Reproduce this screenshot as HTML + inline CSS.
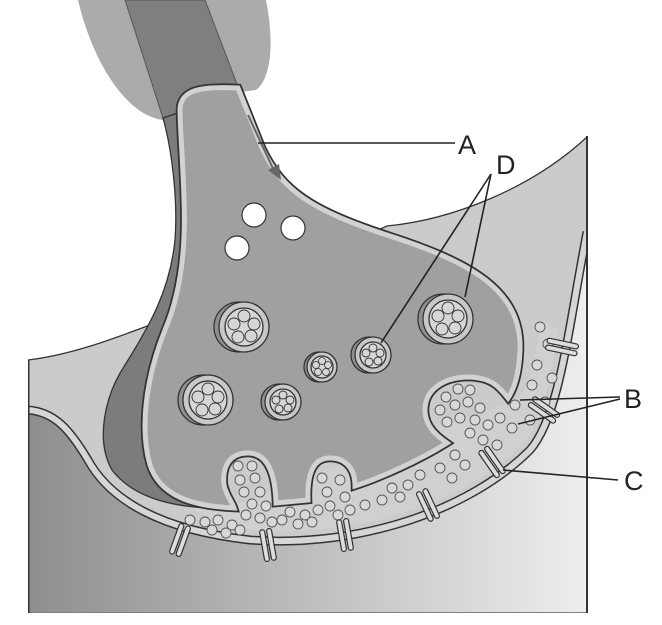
<!DOCTYPE html>
<html><head><meta charset="utf-8"><style>
html,body{margin:0;padding:0;background:#fff;width:662px;height:625px;overflow:hidden}
svg{display:block}
text{font-family:"Liberation Sans",sans-serif;font-size:27px;fill:#222}
</style></head><body>
<svg width="662" height="625" viewBox="0 0 662 625" xmlns="http://www.w3.org/2000/svg">
<defs>
<linearGradient id="post" x1="0" x2="1" y1="0" y2="0">
<stop offset="0" stop-color="#8e8e8e"/><stop offset="1" stop-color="#f0f0f0"/>
</linearGradient>
<clipPath id="cl"><rect x="28" y="0" width="559" height="613"/></clipPath>
</defs>
<!-- axon glow -->
<path d="M78,0 L266,0 C274,40 272,78 256,90 L240,92 L163,120 C125,115 92,60 78,0Z" fill="#ababab"/>
<!-- axon dark -->
<path d="M125,0 L205,0 L240,92 L163,118 Z" fill="#7f7f7f" stroke="#555" stroke-width="1"/>
<g clip-path="url(#cl)">
<!-- light upper region -->
<path d="M28,360 C70,355 110,340 150,325 L175,320 L387,226 C450,220 530,190 587,137 L587,612 L28,612Z" fill="#cbcbcb" stroke="#333" stroke-width="1.3"/>
<!-- postsynaptic cell -->
<path d="M28,410 C55,412 70,430 88,460 C110,500 160,530 250,540 C360,548 470,510 530,450 C560,415 568,330 587,232 L600,232 L600,612 L28,612Z" fill="url(#post)"/>
<!-- membrane -->
<path d="M28,410 C55,412 70,430 88,460 C110,500 160,530 250,540 C360,548 470,510 530,450 C560,415 568,330 587,232" fill="none" stroke="#333" stroke-width="9"/>
<path d="M28,410 C55,412 70,430 88,460 C110,500 160,530 250,540 C360,548 470,510 530,450 C560,415 568,330 587,232" fill="none" stroke="#d6d6d6" stroke-width="6"/>
<!-- cleft lighter area -->
<path d="M150,470 C180,510 210,520 250,530 C360,538 465,502 522,445 C545,418 552,370 558,330 L540,320 C535,370 528,400 505,405 L430,430 L235,505Z" fill="#d0d0d0"/>
</g>
<rect x="586" y="136" width="2" height="477" fill="#333"/>
<rect x="28" y="360" width="1.5" height="253" fill="#333"/>
<!-- dark region of terminal -->
<path d="M163,118 L240,92 L262,150 L200,400 L235,508 C180,510 135,500 112,470 C95,440 105,395 125,365 C150,325 170,290 175,240 C178,200 172,150 163,118Z" fill="#7c7c7c" stroke="#333" stroke-width="1.3"/>
<!-- terminal -->
<path d="M180,108 C182,90 200,86 238,88 L262,148 C282,190 310,210 390,236 C470,262 522,290 520,350 C519,378 512,392 508,398 C498,385 490,378 470,377 C440,377 425,392 425,410 C425,428 440,438 447,443 C420,460 380,478 355,486 C355,468 345,458 330,458 C315,458 307,470 308,500 L276,503 C275,470 266,453 248,453 C230,453 222,466 224,485 C226,495 232,502 234,508 C190,506 160,495 150,465 C140,430 145,380 165,330 C180,295 186,250 184,200 C183,160 180,130 180,108Z" fill="none" stroke="#333" stroke-width="8.5"/>
<path d="M180,108 C182,90 200,86 238,88 L262,148 C282,190 310,210 390,236 C470,262 522,290 520,350 C519,378 512,392 508,398 C498,385 490,378 470,377 C440,377 425,392 425,410 C425,428 440,438 447,443 C420,460 380,478 355,486 C355,468 345,458 330,458 C315,458 307,470 308,500 L276,503 C275,470 266,453 248,453 C230,453 222,466 224,485 C226,495 232,502 234,508 C190,506 160,495 150,465 C140,430 145,380 165,330 C180,295 186,250 184,200 C183,160 180,130 180,108Z" fill="#a0a0a0" stroke="#d2d2d2" stroke-width="5"/>
<!-- arrow A -->
<path d="M248,115 L276,175" stroke="#666" stroke-width="2" fill="none"/>
<path d="M268,170 L281,180 L279,164Z" fill="#666"/>
<!-- white circles -->
<g fill="#fff" stroke="#333" stroke-width="1.2">
<circle cx="254" cy="215" r="12"/><circle cx="293" cy="228" r="12"/><circle cx="237" cy="248" r="12"/>
</g>
<!-- vesicles -->
<g stroke="#333" stroke-width="1.3">
<g transform="translate(244,327)"><circle cx="-5" cy="0" r="25" fill="#909090"/><circle r="25" fill="#c8c8c8"/><circle r="19" fill="#d6d6d6"/>
<g fill="none" stroke-width="0.9"><circle cx="0" cy="-11" r="6"/><circle cx="10" cy="-3" r="6"/><circle cx="7" cy="9" r="6"/><circle cx="-6" cy="10" r="6"/><circle cx="-10" cy="-3" r="6"/></g></g>
<g transform="translate(208,400)"><circle cx="-5" cy="0" r="25" fill="#909090"/><circle r="25" fill="#c8c8c8"/><circle r="19" fill="#d6d6d6"/>
<g fill="none" stroke-width="0.9"><circle cx="0" cy="-11" r="6"/><circle cx="10" cy="-3" r="6"/><circle cx="7" cy="9" r="6"/><circle cx="-6" cy="10" r="6"/><circle cx="-10" cy="-3" r="6"/></g></g>
<g transform="translate(448,319)"><circle cx="-5" cy="0" r="25" fill="#909090"/><circle r="25" fill="#c8c8c8"/><circle r="19" fill="#d6d6d6"/>
<g fill="none" stroke-width="0.9"><circle cx="0" cy="-11" r="6"/><circle cx="10" cy="-3" r="6"/><circle cx="7" cy="9" r="6"/><circle cx="-6" cy="10" r="6"/><circle cx="-10" cy="-3" r="6"/></g></g>
<g transform="translate(373,355)"><circle cx="-4" cy="0" r="18" fill="#909090"/><circle r="18" fill="#c8c8c8"/><circle r="13" fill="#d6d6d6"/>
<g fill="none" stroke-width="0.9"><circle cx="0" cy="-7" r="4"/><circle cx="7" cy="-2" r="4"/><circle cx="5" cy="6" r="4"/><circle cx="-4" cy="7" r="4"/><circle cx="-7" cy="-2" r="4"/></g></g>
<g transform="translate(283,402)"><circle cx="-4" cy="0" r="18" fill="#909090"/><circle r="18" fill="#c8c8c8"/><circle r="13" fill="#d6d6d6"/>
<g fill="none" stroke-width="0.9"><circle cx="0" cy="-7" r="4"/><circle cx="7" cy="-2" r="4"/><circle cx="5" cy="6" r="4"/><circle cx="-4" cy="7" r="4"/><circle cx="-7" cy="-2" r="4"/></g></g>
<g transform="translate(322,367)"><circle cx="-3" cy="0" r="15" fill="#909090"/><circle r="15" fill="#c8c8c8"/><circle r="11" fill="#d6d6d6"/>
<g fill="none" stroke-width="0.8"><circle cx="0" cy="-6" r="3.5"/><circle cx="6" cy="-2" r="3.5"/><circle cx="4" cy="5" r="3.5"/><circle cx="-4" cy="5" r="3.5"/><circle cx="-6" cy="-2" r="3.5"/></g></g>
</g>
<!-- cleft small circles -->
<g fill="#d8d8d8" stroke="#555" stroke-width="0.9">
<circle cx="540" cy="327" r="5"/><circle cx="548" cy="344" r="5"/><circle cx="537" cy="365" r="5"/><circle cx="552" cy="378" r="5"/><circle cx="532" cy="385" r="5"/>
<circle cx="545" cy="402" r="5"/><circle cx="515" cy="405" r="5"/><circle cx="530" cy="420" r="5"/><circle cx="512" cy="428" r="5"/><circle cx="500" cy="418" r="5"/>
<circle cx="446" cy="397" r="5"/><circle cx="458" cy="389" r="5"/><circle cx="470" cy="390" r="5"/><circle cx="440" cy="410" r="5"/><circle cx="455" cy="405" r="5"/><circle cx="468" cy="402" r="5"/><circle cx="480" cy="408" r="5"/>
<circle cx="447" cy="422" r="5"/><circle cx="460" cy="418" r="5"/><circle cx="475" cy="420" r="5"/><circle cx="488" cy="425" r="5"/><circle cx="470" cy="433" r="5"/><circle cx="483" cy="440" r="5"/><circle cx="497" cy="445" r="5"/><circle cx="455" cy="455" r="5"/><circle cx="465" cy="465" r="5"/><circle cx="440" cy="468" r="5"/><circle cx="452" cy="478" r="5"/>
<circle cx="420" cy="475" r="5"/><circle cx="408" cy="485" r="5"/><circle cx="392" cy="488" r="5"/><circle cx="400" cy="497" r="5"/><circle cx="382" cy="500" r="5"/><circle cx="365" cy="505" r="5"/><circle cx="350" cy="510" r="5"/><circle cx="338" cy="515" r="5"/>
<circle cx="322" cy="478" r="5"/><circle cx="340" cy="480" r="5"/><circle cx="327" cy="492" r="5"/><circle cx="345" cy="497" r="5"/><circle cx="330" cy="506" r="5"/><circle cx="318" cy="510" r="5"/><circle cx="305" cy="515" r="5"/><circle cx="290" cy="512" r="5"/><circle cx="282" cy="520" r="5"/><circle cx="298" cy="524" r="5"/><circle cx="312" cy="522" r="5"/>
<circle cx="238" cy="466" r="5"/><circle cx="252" cy="466" r="5"/><circle cx="240" cy="480" r="5"/><circle cx="255" cy="478" r="5"/><circle cx="244" cy="492" r="5"/><circle cx="260" cy="492" r="5"/><circle cx="252" cy="504" r="5"/><circle cx="266" cy="506" r="5"/><circle cx="246" cy="515" r="5"/><circle cx="260" cy="518" r="5"/><circle cx="272" cy="522" r="5"/>
<circle cx="190" cy="520" r="5"/><circle cx="205" cy="522" r="5"/><circle cx="218" cy="520" r="5"/><circle cx="212" cy="530" r="5"/><circle cx="232" cy="525" r="5"/><circle cx="240" cy="530" r="5"/><circle cx="226" cy="533" r="5"/>
</g>
<!-- receptors -->
<g stroke="#333" stroke-width="1.2" fill="#ddd">
<g transform="translate(180,540) rotate(20)"><rect x="-6" y="-16" width="5" height="32" rx="2.5"/><rect x="1" y="-16" width="5" height="32" rx="2.5"/></g>
<g transform="translate(268,545) rotate(-10)"><rect x="-6" y="-16" width="5" height="32" rx="2.5"/><rect x="1" y="-16" width="5" height="32" rx="2.5"/></g>
<g transform="translate(345,535) rotate(-10)"><rect x="-6" y="-16" width="5" height="32" rx="2.5"/><rect x="1" y="-16" width="5" height="32" rx="2.5"/></g>
<g transform="translate(428,505) rotate(-25)"><rect x="-6" y="-16" width="5" height="32" rx="2.5"/><rect x="1" y="-16" width="5" height="32" rx="2.5"/></g>
<g transform="translate(492,462) rotate(-35)"><rect x="-6" y="-16" width="5" height="32" rx="2.5"/><rect x="1" y="-16" width="5" height="32" rx="2.5"/></g>
<g transform="translate(544,410) rotate(-55)"><rect x="-6" y="-16" width="5" height="32" rx="2.5"/><rect x="1" y="-16" width="5" height="32" rx="2.5"/></g>
<g transform="translate(562,347) rotate(-78)"><rect x="-6" y="-16" width="5" height="32" rx="2.5"/><rect x="1" y="-16" width="5" height="32" rx="2.5"/></g>
</g>
<!-- leader lines -->
<g stroke="#222" stroke-width="1.6" fill="none">
<path d="M258,143 L455,143"/>
<path d="M491,174 L381,343"/>
<path d="M491,174 L465,297"/>
<path d="M520,400 L620,397"/>
<path d="M518,424 L620,399"/>
<path d="M503,470 L618,480"/>
</g>
<text x="458" y="154">A</text>
<text x="496" y="174">D</text>
<text x="624" y="408">B</text>
<text x="624" y="490">C</text>
</svg>
</body></html>
